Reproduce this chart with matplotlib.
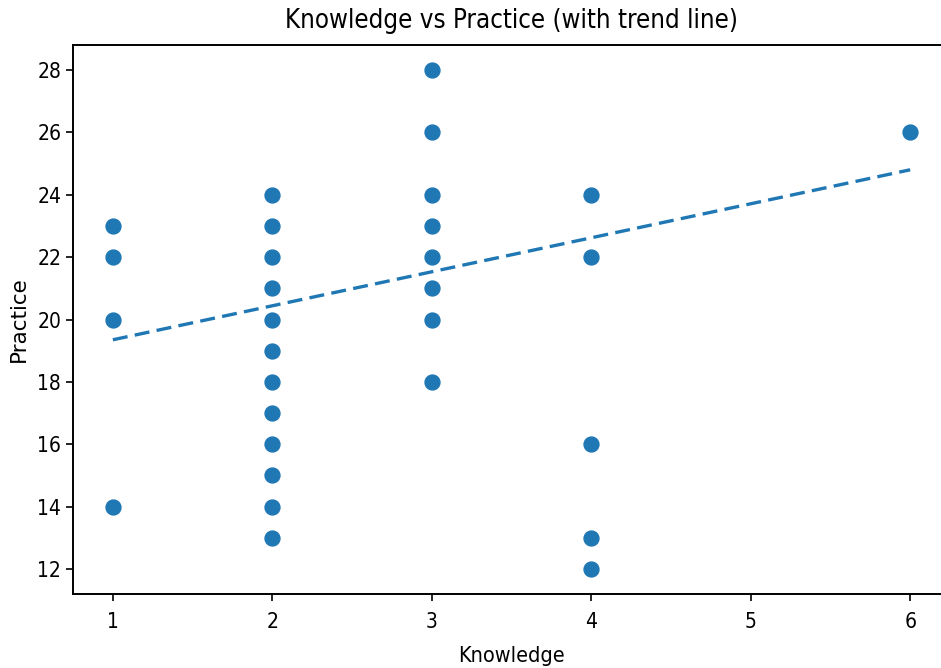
import matplotlib
matplotlib.use("Agg")
import matplotlib.pyplot as plt
from matplotlib import font_manager as fm

# Data
knowledge_1 = [1, 1, 1, 1]
practice_1 = [23, 22, 20, 14]
knowledge_2 = [2] * 12
practice_2 = [24, 23, 22, 21, 20, 19, 18, 17, 16, 15, 14, 13]
knowledge_3 = [3] * 8
practice_3 = [28, 26, 24, 23, 22, 21, 20, 18]
knowledge_4 = [4] * 5
practice_4 = [24, 22, 16, 13, 12]
knowledge_6 = [6]
practice_6 = [26]

trend_slope = 1.09
trend_intercept = 18.26

x_ticks = [1, 2, 3, 4, 5, 6]
y_ticks = [12, 14, 16, 18, 20, 22, 24, 26, 28]

knowledge = knowledge_1 + knowledge_2 + knowledge_3 + knowledge_4 + knowledge_6
practice = practice_1 + practice_2 + practice_3 + practice_4 + practice_6

# pick condensed font if available
names = {f.name for f in fm.fontManager.ttflist}
fam = "DejaVu Sans"
stretch = "normal"
for f in fm.fontManager.ttflist:
    if f.name == "DejaVu Sans" and f.stretch in ("condensed", "semi-condensed"):
        stretch = "condensed"
if stretch == "normal" and "Liberation Sans Narrow" in names:
    fam = "Liberation Sans Narrow"
plt.rcParams["font.family"] = [fam]
plt.rcParams["font.stretch"] = stretch

fig = plt.figure(figsize=(9.41, 6.68), dpi=100)
ax = fig.add_axes([0.0776, 0.1108, 1.0096 - 0.0776, 0.9326 - 0.1108])

ax.scatter(knowledge, practice, s=115, color="#1f77b4", zorder=3)
xs = [min(knowledge), max(knowledge)]
ax.plot(xs, [trend_slope * v + trend_intercept for v in xs],
        linestyle="--", color="#1f77b4", linewidth=2.4, dashes=(4.5, 2.2), zorder=2)

ax.set_xlim(0.75, 6.25)
ax.set_ylim(11.2, 28.8)
ax.set_xticks(x_ticks)
ax.set_yticks(y_ticks)
ax.tick_params(labelsize=15, length=5, width=1.2)
ax.tick_params(axis="x", pad=8)
for s in ax.spines.values():
    s.set_linewidth(1.4)

ax.set_title("Knowledge vs Practice (with trend line)", fontsize=18.5, pad=12)
ax.set_xlabel("Knowledge", fontsize=15.5, labelpad=10)
ax.set_ylabel("Practice", fontsize=15.5, labelpad=6,
              fontproperties=fm.FontProperties(family="DejaVu Sans", stretch="normal", size=15.5))

fig.savefig("out.png", dpi=100)
